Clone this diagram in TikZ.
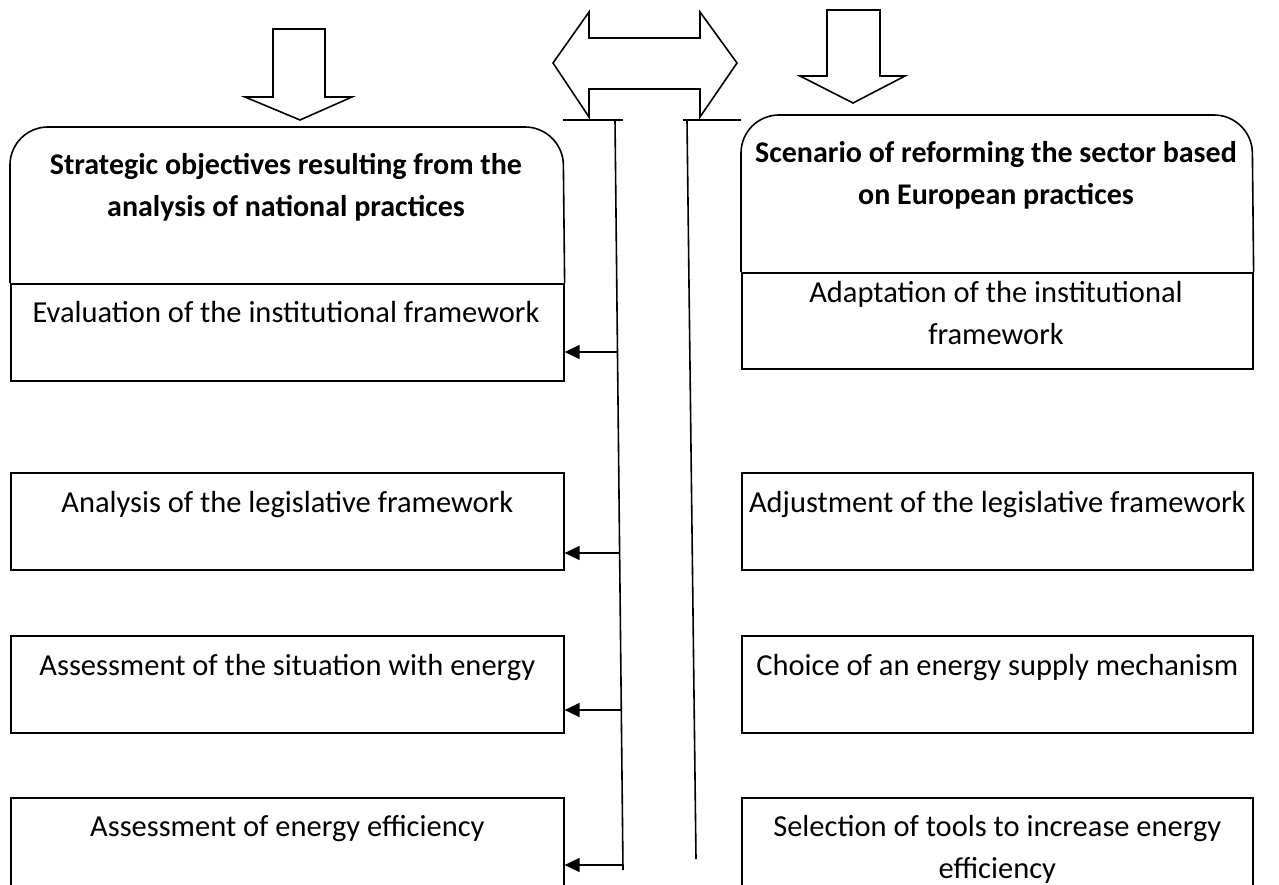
\documentclass[tikz,border=0pt]{standalone}
\usepackage{fontspec}
\setmainfont{Carlito}
\usetikzlibrary{arrows.meta,calc}
\begin{document}
\begin{tikzpicture}[x=1pt,y=-1pt,
  ln/.style={line width=1.6pt,black},
  boxn/.style={draw,line width=1.6pt,anchor=north west,inner sep=0pt},
  txt/.style={anchor=base,font=\fontsize{30.5}{42}\selectfont,align=center,inner sep=0pt},
  head/.style={anchor=base,font=\fontsize{30}{42}\selectfont\bfseries,align=center,inner sep=0pt},
  arr/.style={line width=1.6pt,-{Triangle[length=15pt,width=14pt]}},
  blockarrow/.style={draw,line width=1.6pt,fill=white,line join=miter}]
\useasboundingbox (0,0) rectangle (1279,885);
% block arrows
\draw[blockarrow] (273,29) -- (325,29) -- (325,97) -- (352,97) -- (300,120) -- (245,97) -- (273,97) -- cycle;
\draw[blockarrow] (827,10) -- (880,10) -- (880,76) -- (905,76) -- (853,103) -- (800,76) -- (827,76) -- cycle;
\draw[blockarrow] (553,63) -- (589,12) -- (589,38) -- (700,38) -- (700,12) -- (737,63) -- (700,117) -- (700,89) -- (589,89) -- (589,117) -- cycle;
% header boxes
\node[boxn,minimum width=553pt,minimum height=97pt] (lb1) at (10,283) {};
\draw[ln,rounded corners=38pt] (lb1.north west) -- (10,127) -- (563,127) -- (lb1.north east);
\node[head] (lh) at (286,217) {Strategic objectives resulting from the\\analysis of national practices};
\node[txt] (lt1) at (286,322) {Evaluation of the institutional framework};
\node[boxn,minimum width=511pt,minimum height=96pt] (rb1) at (741,272) {};
\draw[ln,rounded corners=38pt] (rb1.north west) -- (741,115) -- (1252,115) -- (rb1.north east);
\node[head] (rh) at (996,205) {Scenario of reforming the sector based\\on European practices};
\node[txt] (rt1) at (996,344) {Adaptation of the institutional\\framework};
% left boxes
\node[boxn,minimum width=553pt,minimum height=97pt] (lb2) at (10,472) {};
\node[txt] at ($(lb2.north)+(0,40)$) {Analysis of the legislative framework};
\node[boxn,minimum width=553pt,minimum height=97pt] (lb3) at (10,635) {};
\node[txt] at ($(lb3.north)+(0,40)$) {Assessment of the situation with energy};
\node[boxn,minimum width=553pt,minimum height=110pt] (lb4) at (10,797) {};
\node[txt] at ($(lb4.north)+(0,39)$) {Assessment of energy efficiency};
% right boxes
\node[boxn,minimum width=511pt,minimum height=97pt] (rb2) at (741,472) {};
\node[txt] at ($(rb2.north)+(0,40)$) {Adjustment of the legislative framework};
\node[boxn,minimum width=511pt,minimum height=97pt] (rb3) at (741,635) {};
\node[txt] at ($(rb3.north)+(0,40)$) {Choice of an energy supply mechanism};
\node[boxn,minimum width=511pt,minimum height=110pt] (rb4) at (741,797) {};
\node[txt] at ($(rb4.north)+(0,81)$) {Selection of tools to increase energy\\efficiency};
% connector lines
\coordinate (L1) at (615,120);
\coordinate (L2) at (623,870);
\coordinate (R1) at (687,120);
\coordinate (R2) at (696,859);
\coordinate (T1) at (563,120);
\coordinate (T2) at (683,120);
\draw[ln] (T1) -- (623,120);
\draw[ln] (T2) -- (rb1.north west |- T2);
\draw[ln] (L1) -- (L2);
\draw[ln] (R1) -- (R2);
\coordinate (a1) at (617.5,352);
\coordinate (a2) at (619.6,553);
\coordinate (a3) at (621.3,710);
\coordinate (a4) at (623,865);
\draw[arr] (a1) -- (a1 -| lb1.east);
\draw[arr] (a2) -- (a2 -| lb2.east);
\draw[arr] (a3) -- (a3 -| lb3.east);
\draw[arr] (a4) -- (a4 -| lb4.east);
\end{tikzpicture}
\end{document}
